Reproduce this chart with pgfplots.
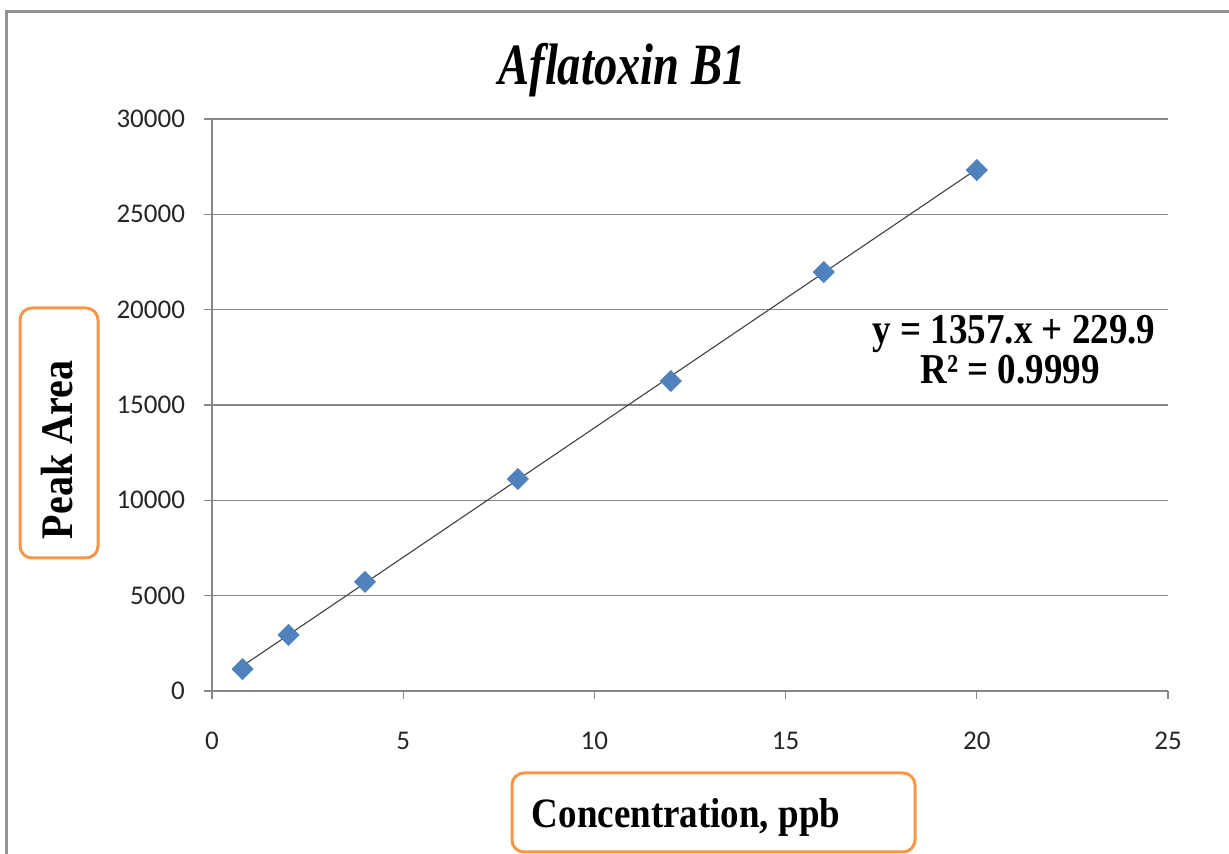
\documentclass[border=0pt]{standalone}
\usepackage{pgfplots}
\pgfplotsset{compat=1.18}
\usepackage{fontspec}
\setmainfont{Liberation Serif}
\newfontfamily\calibri{Carlito}
\definecolor{xlblue}{RGB}{79,129,189}
\definecolor{xlorange}{RGB}{247,150,70}
\definecolor{xlgray}{RGB}{134,134,134}
\begin{document}
\begin{tikzpicture}
\path[use as bounding box] (0,0) rectangle (614.5pt,427pt);
\draw[xlgray!90, line width=1.5pt] (3pt,-2pt) -- (3pt,421pt) -- (618pt,421pt);
\begin{axis}[
  at={(106pt,81.5pt)}, anchor=south west,
  scale only axis, width=478pt, height=286pt,
  xmin=0, xmax=25, ymin=0, ymax=30000,
  xtick={0,5,...,25}, ytick={0,5000,...,30000},
  scaled y ticks=false, scaled x ticks=false,
  axis x line*=bottom, axis y line*=left,
  axis line style={xlgray, line width=0.6pt, -},
  tick align=outside, major tick length=4pt,
  tick style={xlgray, line width=0.6pt},
  ymajorgrids, grid style={xlgray, line width=0.6pt},
  /pgf/number format/.cd, 1000 sep={}, assume math mode=true,
  /pgfplots/.cd,
  ticklabel style={font=\calibri\fontsize{13.5}{14}\selectfont, text=black!85},
  xticklabel style={yshift=-13pt},
  yticklabel style={xshift=-6pt},
  clip=false,
]
\addplot[black!75, line width=0.55pt] coordinates {(0.8,1315.5) (20,27369.9)};
\addplot[only marks, mark=square*, mark size=3.7pt, mark options={rotate=45, fill=xlblue, draw=xlblue}]
  coordinates {(0.8,1150) (2,2940) (4,5720) (8,11120) (12,16260) (16,21970) (20,27320)};
\end{axis}
\node[anchor=base, inner sep=0pt] at (311pt,384.5pt) {\scalebox{0.97}[1.22]{\fontsize{24}{26}\selectfont\bfseries\itshape Aflatoxin B1}};
\draw[xlorange, line width=1.5pt, rounded corners=6pt] (10pt,148pt) rectangle (49pt,273pt);
\node[anchor=base, rotate=90, inner sep=0pt] at (36pt,202pt) {\scalebox{1}[1.13]{\fontsize{20}{21}\selectfont\bfseries Peak Area}};
\draw[xlorange, line width=1.5pt, rounded corners=6pt] (256pt,1pt) rectangle (457.5pt,40.5pt);
\node[anchor=base, inner sep=0pt] at (343pt,13pt) {\scalebox{1}[1.13]{\fontsize{18.5}{20}\selectfont\bfseries Concentration, ppb}};
\node[anchor=base, inner sep=0pt] at (507pt,255pt) {\scalebox{1}[1.15]{\fontsize{18.5}{20}\selectfont\bfseries y = 1357.x + 229.9}};
\node[anchor=base, inner sep=0pt] at (505pt,235pt) {\scalebox{1}[1.15]{\fontsize{18.5}{20}\selectfont\bfseries R² = 0.9999}};
\end{tikzpicture}
\end{document}
